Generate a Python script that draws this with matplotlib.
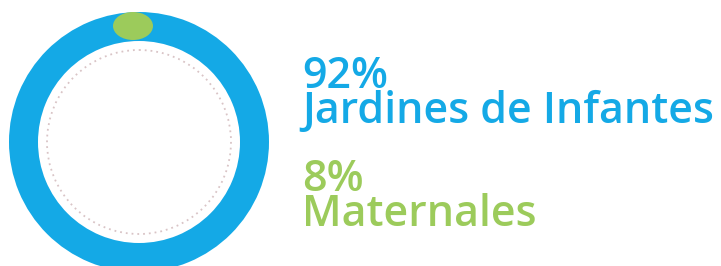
import matplotlib
matplotlib.use("Agg")
import matplotlib.pyplot as plt
from matplotlib.patches import Circle, Ellipse

# data
labels = ["Jardines de Infantes", "Maternales"]
shares = [92, 8]
colors = ["#14a9e6", "#9ccb5b"]

W, H = 721, 266
fig = plt.figure(figsize=(W / 100, H / 100), dpi=100)
ax = fig.add_axes([0, 0, 1, 1])

cx, cy, r_out, ring_w = 139, 142, 130, 29

# full ring in blue, Maternales shown as a small marker on top
ax.pie([shares[0]], colors=[colors[0]], radius=r_out, center=(cx, cy),
       wedgeprops=dict(width=ring_w, linewidth=0), normalize=True)
ax.add_patch(Ellipse((133, 26), 40, 28, color=colors[1], lw=0, zorder=3))
ax.add_patch(Circle((cx, cy), 92, fill=False, ec="#d9c4c6", lw=1.3,
                    ls=(0, (1, 2.2)), zorder=2))
ax.set_xlim(0, W)
ax.set_ylim(H, 0)
ax.set_aspect("equal")
ax.axis("off")

kw = dict(fontsize=31, family="Open Sans", weight="semibold",
          va="baseline", ha="left", linespacing=0.75)
for i, y in enumerate([123, 226]):
    ax.text(302, y, f"{shares[i]}%\n{labels[i]}", color=colors[i], **kw)

fig.savefig("out.png", dpi=100)
